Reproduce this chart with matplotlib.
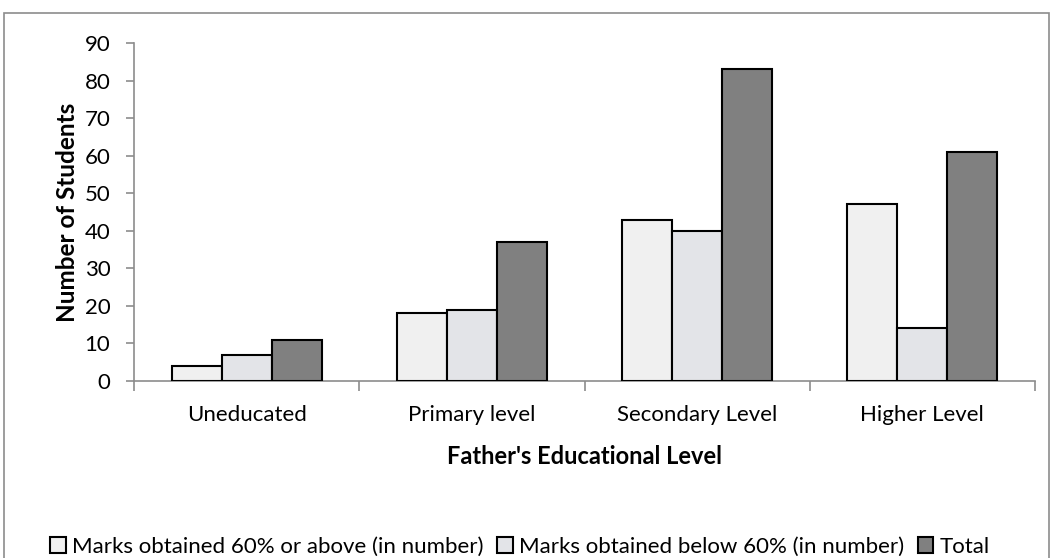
import matplotlib.pyplot as plt
import numpy as np
from matplotlib.patches import Rectangle

plt.rcParams['font.family'] = ['Lato', 'DejaVu Sans']

# data
categories = ['Uneducated', 'Primary level', 'Secondary Level', 'Higher Level']
above_60 = [4, 18, 43, 47]
below_60 = [7, 19, 40, 14]
total = [11, 37, 83, 61]
series_names = ['Marks obtained 60% or above (in number)',
                'Marks obtained below 60% (in number)', 'Total']

W, H = 1050, 558
fig = plt.figure(figsize=(W / 100, H / 100), dpi=100)

# outer chart border
fig.add_artist(Rectangle((4 / W, -0.01), (W - 5) / W, 1 - 13 / H + 0.01,
                         transform=fig.transFigure, fill=False,
                         edgecolor='#8c8c8c', linewidth=1.2))

ax = fig.add_axes([134 / W, 1 - 381 / H, 901 / W, 338 / H])

x = np.arange(len(categories))
bw = 0.222
colors = ['#f0f0f0', '#e3e4e8', '#808080']
for i, (vals, c, name) in enumerate(zip([above_60, below_60, total], colors, series_names)):
    ax.bar(x + (i - 1) * bw, vals, bw, color=c, edgecolor='black',
           linewidth=1.5, label=name, zorder=3)

ax.set_xlim(-0.5, len(categories) - 0.5)
ax.set_ylim(0, 90)
ax.set_yticks(range(0, 91, 10))
ax.tick_params(axis='y', labelsize=16, length=6, color='#8c8c8c', width=1.2, pad=11)

ax.set_xticks(x)
ax.set_xticklabels(categories)
ax.tick_params(axis='x', which='major', length=0, labelsize=16, pad=17)
ax.set_xticks(np.arange(-0.5, len(categories)), minor=True)
ax.tick_params(axis='x', which='minor', length=7, color='#8c8c8c', width=1.2)

for s in ['top', 'right']:
    ax.spines[s].set_visible(False)
for s in ['left', 'bottom']:
    ax.spines[s].set_color('#8c8c8c')
    ax.spines[s].set_linewidth(1.2)

ax.set_ylabel('Number of Students', fontsize=17.5, fontweight='bold', labelpad=4)
ax.set_xlabel("Father's Educational Level", fontsize=17, fontweight='bold', labelpad=15)

fig.legend(loc='center', bbox_to_anchor=(520 / W, 11 / H),
           ncol=3, frameon=False, fontsize=16,
           handlelength=0.7, handleheight=0.7, handletextpad=0.3, columnspacing=0.6)

fig.savefig('out.png', dpi=100)
